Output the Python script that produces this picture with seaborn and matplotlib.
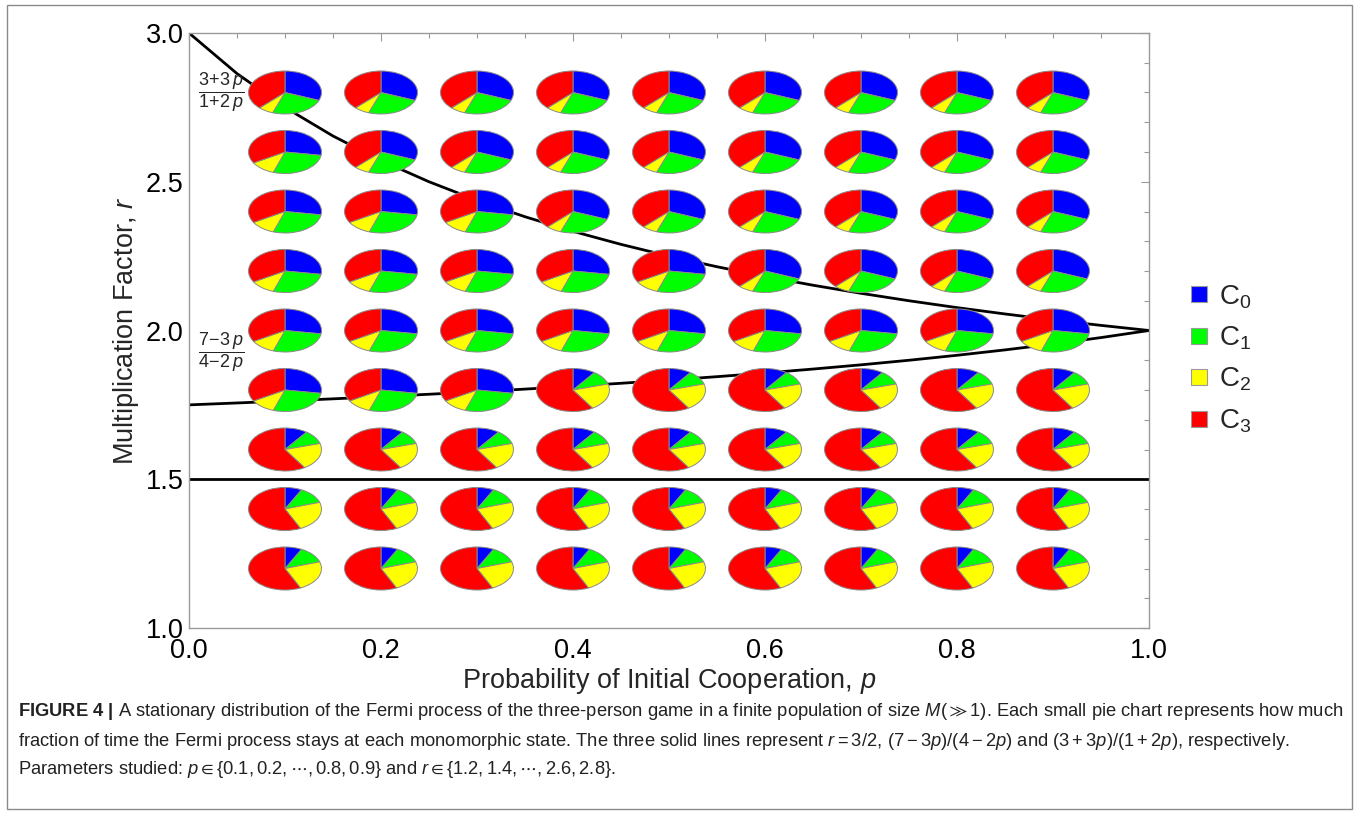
import matplotlib
matplotlib.use("Agg")
import matplotlib.pyplot as plt
import seaborn as sns
from matplotlib.lines import Line2D
from matplotlib.patches import Rectangle, Wedge
from matplotlib.ticker import MultipleLocator
from matplotlib.transforms import Affine2D

# grid of parameters studied
p_values = [0.1, 0.2, 0.3, 0.4, 0.5, 0.6, 0.7, 0.8, 0.9]
r_values = [2.8, 2.6, 2.4, 2.2, 2.0, 1.8, 1.6, 1.4, 1.2]

# which kind of pie sits at each (r, p) cell
pie_rows = [
    "AAAAAAAAA",  # r = 2.8
    "BAAAAAAAA",  # r = 2.6
    "BBBAAAAAA",  # r = 2.4
    "BBBBBAAAA",  # r = 2.2
    "BBBBBBBBB",  # r = 2.0
    "BBBCCCCCC",  # r = 1.8
    "CCCCCCCCC",  # r = 1.6
    "DDDDDDDDD",  # r = 1.4
    "DDDDDDDDD",  # r = 1.2
]

# slice shares (%) of each pie kind
pie_kinds = ["A", "B", "C", "D"]
c0_share = [31.0, 27.5, 10.0, 7.5]
c1_share = [24.5, 27.7, 10.5, 12.5]
c2_share = [6.8, 11.3, 20.5, 23.0]
c3_share = [37.7, 33.5, 59.0, 57.0]

state_labels = [r"C$_0$", r"C$_1$", r"C$_2$", r"C$_3$"]
state_colors = ["#0000ff", "#00ff00", "#ffff00", "#ff0000"]

# boundary lines
p_line = [0.0, 0.05, 0.1, 0.15, 0.2, 0.25, 0.3, 0.35, 0.4, 0.45, 0.5,
          0.55, 0.6, 0.65, 0.7, 0.75, 0.8, 0.85, 0.9, 0.95, 1.0]
r_upper = [3.0, 2.8636, 2.75, 2.6538, 2.5714, 2.5, 2.4375, 2.3824, 2.3333, 2.2895, 2.25,
           2.2143, 2.1818, 2.1522, 2.125, 2.1, 2.0769, 2.0556, 2.0357, 2.0172, 2.0]
r_lower = [1.75, 1.7564, 1.7632, 1.7703, 1.7778, 1.7857, 1.7941, 1.803, 1.8125, 1.8226, 1.8333,
           1.8448, 1.8571, 1.8704, 1.8846, 1.9, 1.9167, 1.9348, 1.9545, 1.9762, 2.0]
p_flat = [0.0, 1.0]
r_flat = [1.5, 1.5]

caption = [
    r"$\mathbf{FIGURE\ 4\ |}$ A stationary distribution of the Fermi process of the three-person game "
    r"in a finite population of size $M$($\gg$1). Each small pie chart represents how much",
    r"fraction of time the Fermi process stays at each monomorphic state. The three solid lines "
    r"represent $r = 3/2,\,(7 - 3p)/(4 - 2p)$ and $(3 + 3p)/(1 + 2p)$, respectively.",
    r"Parameters studied: $p \in \{0.1, 0.2, \cdots, 0.8, 0.9\}$ and "
    r"$r \in \{1.2, 1.4, \cdots, 2.6, 2.8\}$.",
]

sns.set_theme(style="white")
plt.rcParams["font.family"] = ["Liberation Sans", "DejaVu Sans"]
plt.rcParams["mathtext.fontset"] = "custom"
plt.rcParams["mathtext.rm"] = "Liberation Sans"
plt.rcParams["mathtext.it"] = "Liberation Sans:italic"
plt.rcParams["mathtext.bf"] = "Liberation Sans:bold"
plt.rcParams["mathtext.fallback"] = "stixsans"

fig = plt.figure(figsize=(13.6, 8.14), dpi=100)
ax = fig.add_axes([189 / 1360, 1 - 628 / 814, 960 / 1360, 595 / 814])

for rr, pp in [(r_upper, p_line), (r_lower, p_line), (r_flat, p_flat)]:
    sns.lineplot(x=pp, y=rr, color="black", linewidth=2.0, ax=ax, zorder=2)

# small elliptical pies, start at 12 o'clock, clockwise
rx, ry = 0.038, 0.0723
for i, r in enumerate(r_values):
    for j, p in enumerate(p_values):
        k = pie_kinds.index(pie_rows[i][j])
        shares = [c0_share[k], c1_share[k], c2_share[k], c3_share[k]]
        total = sum(shares)
        tr = Affine2D().scale(rx, ry).translate(p, r) + ax.transData
        start = 90.0
        for share, col in zip(shares, state_colors):
            sweep = 360.0 * share / total
            w = Wedge((0, 0), 1.0, start - sweep, start, facecolor=col,
                      edgecolor="#8a8a8a", linewidth=0.7, transform=tr, zorder=3)
            ax.add_patch(w)
            start -= sweep

ax.text(0.033, 2.80, r"$\dfrac{3\!+\!3\,p}{1\!+\!2\,p}$", fontsize=13,
        ha="center", va="center")
ax.text(0.033, 1.928, r"$\dfrac{7\!-\!3\,p}{4\!-\!2\,p}$", fontsize=13,
        ha="center", va="center")

ax.set_xlim(0, 1)
ax.set_ylim(1, 3)
ax.xaxis.set_major_locator(MultipleLocator(0.2))
ax.xaxis.set_minor_locator(MultipleLocator(0.05))
ax.yaxis.set_major_locator(MultipleLocator(0.5))
ax.yaxis.set_minor_locator(MultipleLocator(0.1))
ax.tick_params(which="both", direction="in", top=True, right=True,
               color="#9a9a9a", labelcolor="black", labelsize=19.5, width=0.8)
ax.tick_params(which="major", length=6)
ax.tick_params(which="minor", length=3.5)
ax.tick_params(axis="y", pad=4)
ax.tick_params(axis="x", pad=7)
for s in ax.spines.values():
    s.set_color("#9a9a9a")
    s.set_linewidth(1.0)

ax.set_xlabel("Probability of Initial Cooperation, $p$", fontsize=19.5, labelpad=2)
ax.set_ylabel("Multiplication Factor, $r$", fontsize=19.5, labelpad=3)

handles = [Line2D([], [], marker="s", linestyle="", markersize=11.5,
                  markerfacecolor=c, markeredgecolor="#9a9a9a", markeredgewidth=0.8)
           for c in state_colors]
fig.legend(handles, state_labels, loc="center left", bbox_to_anchor=(1188 / 1360, 1 - 359 / 814),
           frameon=False, fontsize=20, handlelength=0.8, handletextpad=0.33,
           labelspacing=0.5, borderpad=0, borderaxespad=0)

for n, line in enumerate(caption):
    fig.text(18 / 1360, 1 - (712 + 29 * n) / 814, line, fontsize=13.2,
             ha="left", va="center", color="#222222")

fig.add_artist(Rectangle((7 / 1360, 5 / 814), 1345 / 1360, 804 / 814,
                         transform=fig.transFigure, fill=False,
                         edgecolor="#8a8a8a", linewidth=1.0))

fig.savefig("out.png", dpi=100)
